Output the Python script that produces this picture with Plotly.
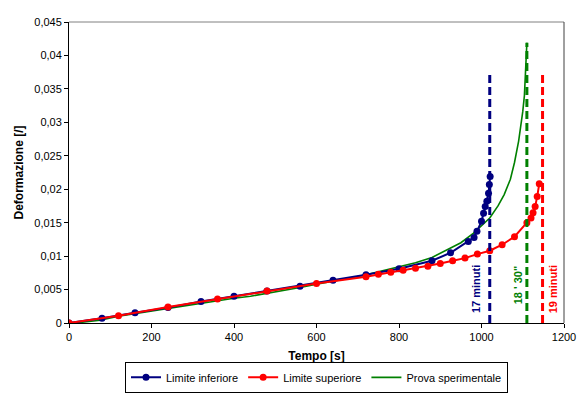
import plotly.graph_objects as go

# ---- data ----
inf_t = [0, 80, 160, 240, 320, 400, 480, 560, 640, 720, 800, 880, 925, 968, 982, 989,
         1000, 1005, 1009, 1013, 1017, 1019, 1021]
inf_d = [0, 0.0007, 0.00154, 0.0023, 0.0032, 0.0040, 0.0048, 0.0055, 0.0064, 0.0072,
         0.0081, 0.0093, 0.0105, 0.0122, 0.0128, 0.0137, 0.0152, 0.0164, 0.0174, 0.0182,
         0.0194, 0.0207, 0.0219]

sup_t = [0, 120, 240, 360, 480, 600, 720, 750, 780, 810, 840, 870, 900, 930, 960, 990,
         1020, 1050, 1080, 1110, 1120, 1125, 1130, 1135, 1140]
sup_d = [0, 0.0011, 0.0024, 0.0036, 0.0048, 0.0059, 0.0069, 0.0073, 0.0076, 0.0079,
         0.0082, 0.0085, 0.0089, 0.0093, 0.0097, 0.0103, 0.0108, 0.0117, 0.0129, 0.0150,
         0.0157, 0.0165, 0.0174, 0.0189, 0.0208]

prova_t = [15, 40, 75, 120, 160, 200, 240, 280, 320, 360, 400, 440, 480, 520, 560, 600,
           640, 680, 720, 760, 800, 840, 880, 920, 950, 980, 1000, 1020, 1040, 1055, 1070,
           1080, 1090, 1095, 1100, 1104, 1107, 1109, 1110]
prova_d = [0, 0.0002, 0.0004, 0.0010, 0.0014, 0.0017, 0.0021, 0.0025, 0.0030, 0.0034,
           0.0037, 0.0040, 0.0044, 0.0048, 0.0053, 0.0058, 0.0062, 0.0067, 0.0072, 0.0078,
           0.0084, 0.0090, 0.0098, 0.0110, 0.0120, 0.0134, 0.0145, 0.0157, 0.0175, 0.0192,
           0.0215, 0.0240, 0.0272, 0.0292, 0.0316, 0.0340, 0.0372, 0.0400, 0.0419]

# failure-time markers (s) and their heights
fail_t = [1020, 1110, 1148]
fail_top = [0.0371, 0.0419, 0.0371]
fail_labels = ["17 minuti", "18 ' 30\"", "19 minuti"]
label_t = [987, 1087, 1172]
label_d = [0.0051, 0.0057, 0.0051]

x_ticks = [0, 200, 400, 600, 800, 1000, 1200]
x_ticktext = ["0", "200", "400", "600", "800", "1000", "1200"]
y_ticks = [0, 0.005, 0.01, 0.015, 0.02, 0.025, 0.03, 0.035, 0.04, 0.045]
y_ticktext = ["0", "0,005", "0,01", "0,015", "0,02", "0,025", "0,03", "0,035", "0,04", "0,045"]

NAVY = "#000080"
RED = "#FF0000"
GREEN = "#008000"
colors = [NAVY, GREEN, RED]

FONT = "Arial, Liberation Sans, sans-serif"

fig = go.Figure()

fig.add_trace(go.Scatter(x=prova_t, y=prova_d, mode="lines", name="Prova sperimentale",
                         line=dict(color=GREEN, width=1.6), legendrank=3))
fig.add_trace(go.Scatter(x=inf_t, y=inf_d, mode="lines+markers", name="Limite inferiore",
                         line=dict(color=NAVY, width=2), marker=dict(size=7, color=NAVY),
                         legendrank=1))
fig.add_trace(go.Scatter(x=sup_t, y=sup_d, mode="lines+markers", name="Limite superiore",
                         line=dict(color=RED, width=2), marker=dict(size=7, color=RED),
                         legendrank=2))

for t, top, c in zip(fail_t, fail_top, colors):
    fig.add_trace(go.Scatter(x=[t, t], y=[0, top], mode="lines", showlegend=False,
                             line=dict(color=c, width=3, dash="8px,4px"), hoverinfo="skip"))

for txt, t, d, c in zip(fail_labels, label_t, label_d, colors):
    fig.add_annotation(x=t, y=d, xref="x", yref="y", text="<b>" + txt + "</b>",
                       textangle=-90, showarrow=False,
                       font=dict(family=FONT, size=11, color=c))

# plot-area frame (top gray, right dark)
fig.add_shape(type="line", xref="paper", yref="paper", x0=0, x1=1, y0=1, y1=1,
              line=dict(color="#808080", width=1))
fig.add_shape(type="line", xref="paper", yref="paper", x0=1, x1=1, y0=0, y1=1,
              line=dict(color="#404040", width=1))

fig.update_layout(
    width=577, height=395,
    margin=dict(l=69, r=13, t=22, b=72, autoexpand=False),
    paper_bgcolor="white", plot_bgcolor="white",
    font=dict(family=FONT, size=11, color="black"),
    showlegend=True,
    legend=dict(orientation="h", x=0.5, xanchor="center", y=-0.232, yanchor="bottom",
                bordercolor="black", borderwidth=1, bgcolor="white",
                font=dict(family=FONT, size=11, color="black"),
                itemwidth=30, tracegroupgap=0, traceorder="normal"),
    xaxis=dict(range=[0, 1200], tickvals=x_ticks, ticktext=x_ticktext,
               showgrid=False, zeroline=False, showline=True, linecolor="black", linewidth=1,
               ticks="outside", ticklen=4, tickcolor="black",
               title=dict(text="<b>Tempo [s]</b>", font=dict(family=FONT, size=12), standoff=9)),
    yaxis=dict(range=[0, 0.045], tickvals=y_ticks, ticktext=y_ticktext,
               showgrid=False, zeroline=False, showline=True, linecolor="black", linewidth=1,
               ticks="outside", ticklen=4, tickcolor="black",
               title=dict(text="<b>Deformazione [/]</b>", font=dict(family=FONT, size=12), standoff=8)),
)

fig.write_html("out.html")
